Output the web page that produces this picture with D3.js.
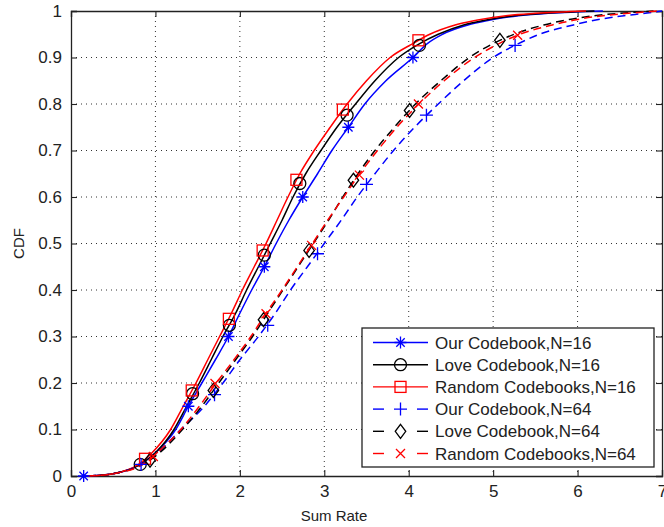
<!DOCTYPE html>
<html>
<head>
<meta charset="utf-8">
<script src="https://cdn.jsdelivr.net/npm/d3@7"></script>
<style>
html,body{margin:0;padding:0;background:#fff;}
svg{display:block;}
text{font-family:"Liberation Sans",Arial,sans-serif;fill:#222;}
</style>
</head>
<body>
<svg id="chart" width="664" height="527"></svg>
<script>
// ---------- data ----------
const cdfLevels = [0, 0.005, 0.025, 0.05, 0.1, 0.15, 0.2, 0.25, 0.3, 0.35, 0.4, 0.45, 0.5, 0.55, 0.6, 0.65, 0.7, 0.75, 0.8, 0.85, 0.9, 0.93, 0.95, 0.97, 0.98, 0.99, 0.995, 1];

const ourN16    = [0.15, 0.5, 0.82, 1.0, 1.24, 1.39, 1.55, 1.71, 1.865, 2.0, 2.14, 2.29, 2.43, 2.58, 2.745, 2.92, 3.09, 3.285, 3.48, 3.73, 4.05, 4.22, 4.4, 4.7, 4.95, 5.3, 5.65, 6.3];
const loveN16   = [0.2, 0.5, 0.82, 1.0, 1.22, 1.37, 1.52, 1.66, 1.80, 1.95, 2.08, 2.22, 2.36, 2.5, 2.63, 2.78, 2.96, 3.15, 3.37, 3.6, 3.88, 4.13, 4.35, 4.65, 4.9, 5.25, 5.6, 6.2];
const randN16   = [0.2, 0.5, 0.8, 0.96, 1.18, 1.33, 1.48, 1.62, 1.76, 1.9, 2.03, 2.17, 2.31, 2.44, 2.57, 2.71, 2.88, 3.07, 3.27, 3.5, 3.78, 4.05, 4.25, 4.55, 4.8, 5.15, 5.5, 6.1];
const ourN64    = [0.2, 0.5, 0.83, 1.03, 1.3, 1.58, 1.8, 2.0, 2.22, 2.42, 2.6, 2.8, 3.0, 3.2, 3.39, 3.6, 3.82, 4.07, 4.35, 4.65, 5.0, 5.3, 5.55, 5.95, 6.2, 6.55, 6.8, 7.0];
const loveN64   = [0.2, 0.5, 0.85, 1.05, 1.32, 1.55, 1.75, 1.95, 2.15, 2.33, 2.51, 2.69, 2.87, 3.05, 3.22, 3.4, 3.6, 3.83, 4.08, 4.38, 4.72, 5.0, 5.25, 5.6, 5.85, 6.2, 6.5, 6.9];
const randN64   = [0.2, 0.5, 0.85, 1.02, 1.3, 1.52, 1.72, 1.93, 2.13, 2.31, 2.5, 2.68, 2.86, 3.04, 3.23, 3.42, 3.63, 3.86, 4.12, 4.42, 4.78, 5.07, 5.32, 5.7, 5.95, 6.3, 6.6, 6.95];

// marker positions [sumRate, cdf]
const ourN16Marks  = [[0.15,0],[1.39,0.15],[1.865,0.3],[2.29,0.45],[2.745,0.6],[3.285,0.75],[4.05,0.9]];
const loveN16Marks = [[0.82,0.025],[1.44,0.177],[1.876,0.324],[2.29,0.475],[2.71,0.629],[3.27,0.776],[4.127,0.926]];
const randN16Marks = [[0.877,0.037],[1.43,0.184],[1.87,0.338],[2.27,0.485],[2.67,0.637],[3.22,0.788],[4.115,0.937]];
const ourN64Marks  = [[0.83,0.025],[1.7,0.175],[2.33,0.324],[2.92,0.478],[3.50,0.627],[4.21,0.776],[5.26,0.926]];
const loveN64Marks = [[0.936,0.034],[1.686,0.184],[2.28,0.336],[2.82,0.485],[3.345,0.636],[4.01,0.786],[5.08,0.937]];
const randN64Marks = [[0.975,0.042],[1.706,0.199],[2.31,0.349],[2.85,0.496],[3.416,0.647],[4.115,0.80],[5.29,0.948]];

const seriesNames = ["Our Codebook,N=16","Love Codebook,N=16","Random Codebooks,N=16","Our Codebook,N=64","Love Codebook,N=64","Random Codebooks,N=64"];
const xTicks = [0,1,2,3,4,5,6,7];
const yTicks = [0,0.1,0.2,0.3,0.4,0.5,0.6,0.7,0.8,0.9,1];
const xLabel = "Sum Rate";
const yLabel = "CDF";

// ---------- style ----------
const series = [
  {name: seriesNames[0], xs: ourN16,  marks: ourN16Marks,  color:"#0000ff", dash:null, marker:"star"},
  {name: seriesNames[1], xs: loveN16, marks: loveN16Marks, color:"#000000", dash:null, marker:"circle"},
  {name: seriesNames[2], xs: randN16, marks: randN16Marks, color:"#ff0000", dash:null, marker:"square"},
  {name: seriesNames[3], xs: ourN64,  marks: ourN64Marks,  color:"#0000ff", dash:"8,5", marker:"plus"},
  {name: seriesNames[4], xs: loveN64, marks: loveN64Marks, color:"#000000", dash:"8,5", marker:"diamond"},
  {name: seriesNames[5], xs: randN64, marks: randN64Marks, color:"#ff0000", dash:"8,5", marker:"cross"}
];

const svg = d3.select("#chart");
const L = 71, T = 11, R = 662, B = 476;
const x = d3.scaleLinear().domain([0,7]).range([L,R]);
const y = d3.scaleLinear().domain([0,1]).range([B,T]);

// grid
const grid = svg.append("g");
xTicks.slice(1,-1).forEach(t=>{
  grid.append("line").attr("x1",x(t)).attr("x2",x(t)).attr("y1",T).attr("y2",B)
    .attr("stroke","#333").attr("stroke-width",1).attr("stroke-dasharray","1,4");
});
yTicks.slice(1,-1).forEach(t=>{
  grid.append("line").attr("x1",L).attr("x2",R).attr("y1",y(t)).attr("y2",y(t))
    .attr("stroke","#333").attr("stroke-width",1).attr("stroke-dasharray","1,4");
});

// axes
const tickLen = 6;
const axB = svg.append("g").attr("transform",`translate(0,${B})`)
  .call(d3.axisBottom(x).tickValues(xTicks).tickSize(-tickLen).tickPadding(9).tickFormat(d3.format("d")));
const axT = svg.append("g").attr("transform",`translate(0,${T})`)
  .call(d3.axisTop(x).tickValues(xTicks).tickSize(-tickLen).tickFormat(""));
const axL = svg.append("g").attr("transform",`translate(${L},0)`)
  .call(d3.axisLeft(y).tickValues(yTicks).tickSize(-tickLen).tickPadding(9).tickFormat(d=> d===0?"0":d===1?"1":d3.format(".1f")(d)));
const axR = svg.append("g").attr("transform",`translate(${R},0)`)
  .call(d3.axisRight(y).tickValues(yTicks).tickSize(-tickLen).tickFormat(""));
[axB,axT,axL,axR].forEach(a=>{
  a.select(".domain").attr("stroke","#222").attr("stroke-width",1.3);
  a.selectAll(".tick line").attr("stroke","#222").attr("stroke-width",1.1);
  a.selectAll(".tick text").attr("font-size",17).attr("fill","#222")
    .attr("font-family","'Liberation Sans',Arial,sans-serif");
});

// curves
const line = d3.line().x(d=>x(d[0])).y(d=>y(d[1])).curve(d3.curveMonotoneX);
const plot = svg.append("g");
series.forEach(s=>{
  const pts = s.xs.map((v,i)=>[v,cdfLevels[i]]);
  plot.append("path").datum(pts).attr("d",line).attr("fill","none")
    .attr("stroke",s.color).attr("stroke-width",1.5)
    .attr("stroke-dasharray",s.dash);
});

function drawMarker(g, type, cx, cy, color){
  const m = g.append("g").attr("transform",`translate(${cx},${cy})`)
    .attr("fill","none").attr("stroke",color).attr("stroke-width",1.3);
  if(type==="star"){
    const r=6;
    m.append("path").attr("d",`M${-r},0H${r}M0,${-r}V${r}M${-r*0.7},${-r*0.7}L${r*0.7},${r*0.7}M${-r*0.7},${r*0.7}L${r*0.7},${-r*0.7}`);
  } else if(type==="circle"){
    m.append("circle").attr("r",6);
  } else if(type==="square"){
    m.append("rect").attr("x",-5.5).attr("y",-5.5).attr("width",11).attr("height",11);
  } else if(type==="plus"){
    const r=6.5;
    m.append("path").attr("d",`M${-r},0H${r}M0,${-r}V${r}`);
  } else if(type==="diamond"){
    const r=7;
    m.append("path").attr("d",`M0,${-r}L${r*0.75},0L0,${r}L${-r*0.75},0Z`);
  } else if(type==="cross"){
    const r=4.5;
    m.append("path").attr("d",`M${-r},${-r}L${r},${r}M${-r},${r}L${r},${-r}`);
  }
}
series.forEach(s=>{
  s.marks.forEach(p=>drawMarker(plot, s.marker, x(p[0]), y(p[1]), s.color));
});

// axis labels
svg.append("text").attr("x",334).attr("y",521).attr("text-anchor","middle")
  .attr("font-size",15).text(xLabel);
svg.append("text").attr("transform",`translate(24,${(T+B)/2}) rotate(-90)`).attr("text-anchor","middle")
  .attr("font-size",15).text(yLabel);

// legend
const lg = svg.append("g");
const lx0 = 362, ly0 = 328, lw = 292, lh = 139;
lg.append("rect").attr("x",lx0).attr("y",ly0).attr("width",lw).attr("height",lh)
  .attr("fill","#fff").attr("stroke","#222").attr("stroke-width",1.3);
series.forEach((s,i)=>{
  const yy = 342.5 + i*22.2;
  if(s.dash){
    lg.append("line").attr("x1",373).attr("x2",384).attr("y1",yy).attr("y2",yy).attr("stroke",s.color).attr("stroke-width",1.4);
    lg.append("line").attr("x1",417).attr("x2",428).attr("y1",yy).attr("y2",yy).attr("stroke",s.color).attr("stroke-width",1.4);
  } else {
    lg.append("line").attr("x1",373).attr("x2",428).attr("y1",yy).attr("y2",yy).attr("stroke",s.color).attr("stroke-width",1.4);
  }
  drawMarker(lg, s.marker, 400.5, yy, s.color);
  lg.append("text").attr("x",435).attr("y",yy+6).attr("font-size",17).text(s.name);
});
</script>
</body>
</html>
